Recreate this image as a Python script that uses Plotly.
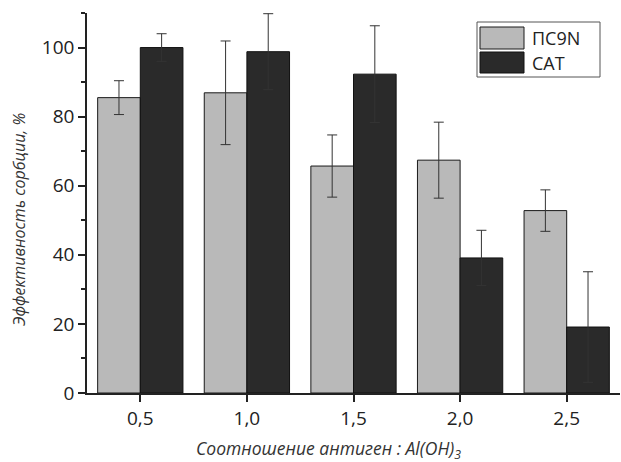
import plotly.graph_objects as go

categories = ["0,5", "1,0", "1,5", "2,0", "2,5"]
series_names = ["ПС9N", "CAT"]
ps9n_values = [85.5, 86.9, 65.7, 67.4, 52.8]
ps9n_errors = [4.9, 15.0, 9.0, 11.0, 6.0]
cat_values = [100.0, 98.8, 92.3, 39.1, 19.1]
cat_errors = [4.0, 11.0, 14.0, 8.0, 16.0]

gray = "#b9b9b9"
dark = "#2a2a2a"
font_family = "Open Sans"

fig = go.Figure()
fig.add_trace(go.Bar(
    x=categories, y=ps9n_values, name=series_names[0],
    marker=dict(color=gray, line=dict(color="#1a1a1a", width=1)),
    error_y=dict(type="data", array=ps9n_errors, visible=True,
                 color="#333333", thickness=1, width=5),
    showlegend=False,
))
fig.add_trace(go.Bar(
    x=categories, y=cat_values, name=series_names[1],
    marker=dict(color=dark, line=dict(color="#111111", width=1)),
    error_y=dict(type="data", array=cat_errors, visible=True,
                 color="#333333", thickness=1, width=5),
    showlegend=False,
))

W, H = 621, 462
ml, mr, mt, mb = 87, 1, 13, 69
pw, ph = W - ml - mr, H - mt - mb

def px(x):
    return (x - ml) / pw

def py(y):
    return (H - mb - y) / ph

shapes = [
    dict(type="rect", xref="paper", yref="paper",
         x0=px(477), x1=px(600), y0=py(77), y1=py(22),
         line=dict(color="#555555", width=1), fillcolor="white"),
    dict(type="rect", xref="paper", yref="paper",
         x0=px(480), x1=px(524), y0=py(49), y1=py(27),
         line=dict(color="#1a1a1a", width=1), fillcolor=gray),
    dict(type="rect", xref="paper", yref="paper",
         x0=px(480), x1=px(524), y0=py(73), y1=py(52),
         line=dict(color="#111111", width=1), fillcolor=dark),
]

annotations = [
    dict(text=series_names[0], xref="paper", yref="paper", x=px(530), y=py(38),
         xanchor="left", yanchor="middle", showarrow=False,
         font=dict(family=font_family, size=18, color="#222222")),
    dict(text=series_names[1], xref="paper", yref="paper", x=px(530), y=py(63),
         xanchor="left", yanchor="middle", showarrow=False,
         font=dict(family=font_family, size=18, color="#222222")),
    dict(text="<i>Соотношение антиген : Al(OH)<sub>3</sub></i>", xref="paper", yref="paper",
         x=px(328), y=py(449), xanchor="center", yanchor="middle", showarrow=False,
         font=dict(family=font_family, size=17.5, color="#333333")),
    dict(text="<i>Эффективность сорбции, %</i>", xref="paper", yref="paper",
         x=px(19), y=py(220), xanchor="center", yanchor="middle", showarrow=False,
         textangle=-90, font=dict(family=font_family, size=16, color="#333333")),
]

fig.update_layout(
    width=W, height=H,
    margin=dict(l=ml, r=mr, t=mt, b=mb, pad=0),
    paper_bgcolor="white", plot_bgcolor="white",
    barmode="group", bargap=0.2, bargroupgap=0,
    font=dict(family=font_family, size=19, color="#222222"),
    shapes=shapes, annotations=annotations,
    xaxis=dict(
        range=[-0.5, 4.5], showline=True, linecolor="#222222", linewidth=1.5,
        ticks="outside", ticklen=7, tickwidth=1.5, tickcolor="#222222",
        showgrid=False, zeroline=False,
        tickfont=dict(family=font_family, size=19, color="#222222"),
    ),
    yaxis=dict(
        range=[0, 110], showline=True, linecolor="#222222", linewidth=1.5,
        tickmode="linear", tick0=0, dtick=20,
        ticks="outside", ticklen=7, tickwidth=1.5, tickcolor="#222222",
        minor=dict(ticks="outside", ticklen=4, tickwidth=1.5, tickcolor="#222222", dtick=10),
        showgrid=False, zeroline=False,
        tickfont=dict(family=font_family, size=19, color="#222222"),
    ),
)

fig.write_html("out.html")
